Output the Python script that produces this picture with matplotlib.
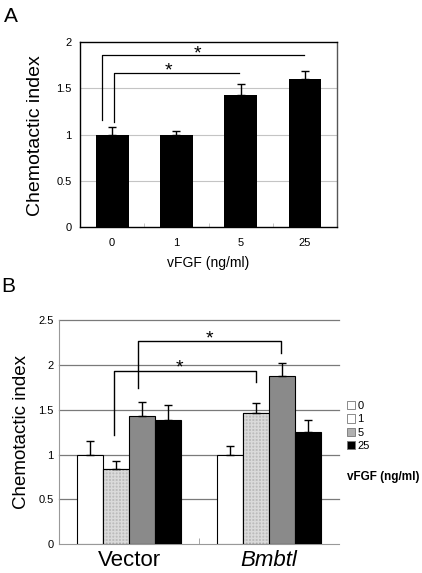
import numpy as np
import matplotlib
matplotlib.use('Agg')
import matplotlib.pyplot as plt
from matplotlib.patches import Patch

plt.rcParams['font.family'] = ['Liberation Sans', 'DejaVu Sans']

# panel A data
doses_a = ['0', '1', '5', '25']
index_a = [1.0, 0.99, 1.43, 1.60]
err_a = [0.08, 0.05, 0.12, 0.09]

# panel B data
groups_b = ['Vector', 'Bmbtl']
dose_labels_b = ['0', '1', '5', '25']
index_b = {
    '0': [1.0, 1.0],
    '1': [0.84, 1.465],
    '5': [1.43, 1.88],
    '25': [1.39, 1.255],
}
err_b = {
    '0': [0.155, 0.095],
    '1': [0.09, 0.115],
    '5': [0.16, 0.14],
    '25': [0.165, 0.125],
}
bar_colors_b = ['white', '#bcbcbc', '#8a8a8a', 'black']
legend_colors_b = ['white', 'white', '#b0b0b0', 'black']

fig = plt.figure(figsize=(4.22, 5.73), dpi=100)

# ---------- panel A ----------
ax1 = fig.add_axes([0.1896, 0.6038, 0.609, 0.3229])
x = np.arange(len(doses_a))
ax1.bar(x, index_a, width=0.51, color='black', zorder=3)
ax1.errorbar(x, index_a, yerr=[np.zeros(len(err_a)), err_a], fmt='none',
             ecolor='black', elinewidth=1, capsize=3, capthick=1, zorder=4)
ax1.set_xlim(-0.5, 3.5)
ax1.set_ylim(0, 2)
ax1.set_yticks([0, 0.5, 1, 1.5, 2])
ax1.set_yticklabels(['0', '0.5', '1', '1.5', '2'])
ax1.set_xticks(x)
ax1.set_xticklabels(doses_a)
ax1.set_xticks([0.5, 1.5, 2.5], minor=True)
ax1.tick_params(axis='both', which='major', length=0, labelsize=8)
ax1.tick_params(axis='x', which='major', pad=8)
ax1.tick_params(axis='y', which='major', pad=6)
ax1.tick_params(axis='x', which='minor', direction='in', length=3, color='#bbbbbb')
for yv in [0.5, 1, 1.5]:
    ax1.axhline(yv, color='#c4c4c4', lw=0.8, zorder=1)
for s in ax1.spines.values():
    s.set_linewidth(1)
ax1.spines['right'].set_color('#555555')
ax1.set_xlabel('vFGF (ng/ml)', fontsize=10, labelpad=6)

# significance brackets A
ax1.plot([-0.16, -0.16, 2.99], [1.16, 1.86, 1.86], color='black', lw=0.9)
ax1.plot([0.03, 0.03, 1.98], [1.14, 1.67, 1.67], color='black', lw=0.9)
ax1.text(1.33, 1.875, '*', ha='center', va='center', fontsize=14)
ax1.text(0.87, 1.685, '*', ha='center', va='center', fontsize=14)

fig.text(0.084, 0.7625, 'Chemotactic index', rotation=90, ha='center',
         va='center', fontsize=14)
fig.text(0.01, 0.972, 'A', fontsize=15, va='center')

# ---------- panel B ----------
ax2 = fig.add_axes([0.1405, 0.0501, 0.6628, 0.3914])
xb = np.arange(len(groups_b))
w = 0.186
offsets = [-1.5 * w, -0.5 * w, 0.5 * w, 1.5 * w]
for i, d in enumerate(dose_labels_b):
    ax2.bar(xb + offsets[i], index_b[d], width=w, color=bar_colors_b[i],
            edgecolor='black', lw=0.8, zorder=3)
    if d == '1':
        ax2.bar(xb + offsets[i], index_b[d], width=w, fill=False,
                edgecolor='#dadada', lw=0, hatch='+++++', zorder=3)
        ax2.bar(xb + offsets[i], index_b[d], width=w, fill=False,
                edgecolor='black', lw=0.8, zorder=3)
    ax2.errorbar(xb + offsets[i], index_b[d],
                 yerr=[np.zeros(2), err_b[d]], fmt='none', ecolor='black',
                 elinewidth=1, capsize=3, capthick=1, zorder=4)
ax2.set_xlim(-0.5, 1.5)
ax2.set_ylim(0, 2.5)
ax2.set_yticks([0, 0.5, 1, 1.5, 2, 2.5])
ax2.set_yticklabels(['0', '0.5', '1', '1.5', '2', '2.5'])
ax2.set_xticks(xb)
ax2.set_xticklabels(groups_b, fontsize=16)
ax2.get_xticklabels()[1].set_style('italic')
ax2.set_xticks([0.5], minor=True)
ax2.tick_params(axis='both', which='major', length=0)
ax2.tick_params(axis='y', labelsize=8, pad=4)
ax2.tick_params(axis='x', pad=4)
ax2.tick_params(axis='x', which='minor', direction='in', length=4, color='#999999')
for yv in [0.5, 1, 1.5, 2, 2.5]:
    ax2.axhline(yv, color='#7a7a7a', lw=0.9, zorder=1, clip_on=False)
ax2.spines['top'].set_visible(False)
ax2.spines['right'].set_visible(False)
ax2.spines['left'].set_color('#999999')
ax2.spines['bottom'].set_color('#999999')

# significance brackets B
ax2.plot([-0.11, -0.11, 0.91, 0.91], [1.215, 1.935, 1.935, 1.805],
         color='black', lw=1)
ax2.plot([0.06, 0.06, 1.085, 1.085], [1.74, 2.27, 2.27, 2.135],
         color='black', lw=1)
ax2.text(0.358, 1.96, '*', ha='center', va='center', fontsize=14)
ax2.text(0.571, 2.29, '*', ha='center', va='center', fontsize=14)

handles = [Patch(facecolor=c, edgecolor='#777777', lw=0.6) for c in legend_colors_b]
fig.legend(handles, dose_labels_b, loc='upper left',
           bbox_to_anchor=(0.822, 0.300), frameon=False, fontsize=8,
           handlelength=0.75, handleheight=0.75, handletextpad=0.2,
           labelspacing=0.3, borderpad=0, borderaxespad=0)
fig.text(0.822, 0.168, 'vFGF (ng/ml)', fontsize=8.5, fontweight='bold',
         va='center')

fig.text(0.051, 0.246, 'Chemotactic index', rotation=90, ha='center',
         va='center', fontsize=13.5)
fig.text(0.003, 0.5, 'B', fontsize=15, va='center')

fig.savefig('out.png', dpi=100)
